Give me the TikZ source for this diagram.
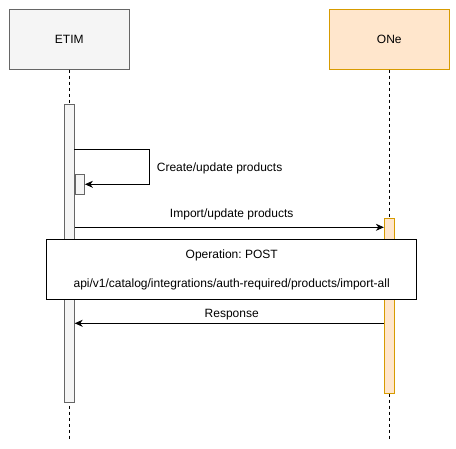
\documentclass[tikz,border=0pt]{standalone}
\usepackage{fontspec}
\setmainfont{Liberation Sans}
\usetikzlibrary{arrows.meta}
\definecolor{grayfill}{HTML}{F5F5F5}
\definecolor{graystroke}{HTML}{666666}
\definecolor{orfill}{HTML}{FFE6CC}
\definecolor{orstroke}{HTML}{D79B00}
\frenchspacing
\begin{document}
\begin{tikzpicture}[x=1pt,y=-1pt,
  every node/.style={font=\fontsize{12}{14}\selectfont, inner sep=0pt},
  actorgray/.style={draw=graystroke, fill=grayfill, line width=0.8pt, minimum width=120pt, minimum height=60pt},
  actoror/.style={draw=orstroke, fill=orfill, line width=0.8pt, minimum width=120pt, minimum height=60pt},
  lifeline/.style={dashed, dash pattern=on 3pt off 3pt, line width=0.7pt},
  msg/.style={line width=0.8pt, -{Stealth[length=8pt,width=7pt,inset=2.5pt]}},
  actgray/.style={draw=graystroke, fill=grayfill, line width=0.8pt},
  actor/.style={draw=orstroke, fill=orfill, line width=0.8pt},
  lbl/.style={fill=none}]
\useasboundingbox (0,0) rectangle (456,449);
% actors
\node[actorgray] (etim) at (69.3,39.3) {ETIM};
\node[actoror] (one) at (389.3,39.3) {ONe};
\coordinate (etimend) at (69.3,439);
\coordinate (oneend) at (389.3,439);
\draw[lifeline] (etim.south) -- (etimend);
\draw[lifeline] (one.south) -- (oneend);
% activations
\node[actgray, minimum width=10pt, minimum height=298pt, anchor=north] (etimact) at (69.3,104.3) {};
\node[actor, minimum width=10pt, minimum height=175pt, anchor=north] (oneact) at (389.3,218.3) {};
\node[actgray, minimum width=9.6pt, minimum height=20.3pt, anchor=north west] (selfact) at (74.5,174) {};
% self message
\coordinate (s1) at (74.3,149.3);
\coordinate (s2) at (149.3,149.3);
\coordinate (s3) at (149.3,184.3);
\draw[msg] (s1) -- (s2) -- (s3) -- (selfact.east |- s3);
\node[lbl, anchor=west] (selflbl) at (156.7,168.5) {Create/update products};
% import message
\draw[msg] (etimact.east |- 0,227.3) -- (oneact.west |- 0,227.3);
\node[lbl] (implbl) at (231.7,214.5) {Import/update products};
% note
\node[draw=black, fill=white, line width=0.8pt, minimum width=370pt, minimum height=60pt] (note) at (231.7,269.3) {};
\node[lbl] (op) at (231.7,255.5) {Operation: POST};
\node[lbl] (api) at (231.7,284.5) {api/v1/catalog/integrations/auth-required/products/import-all};
% response
\draw[msg] (oneact.west |- 0,323.3) -- (etimact.east |- 0,323.3);
\node[lbl] (resplbl) at (231.7,314.5) {Response};
\end{tikzpicture}
\end{document}
